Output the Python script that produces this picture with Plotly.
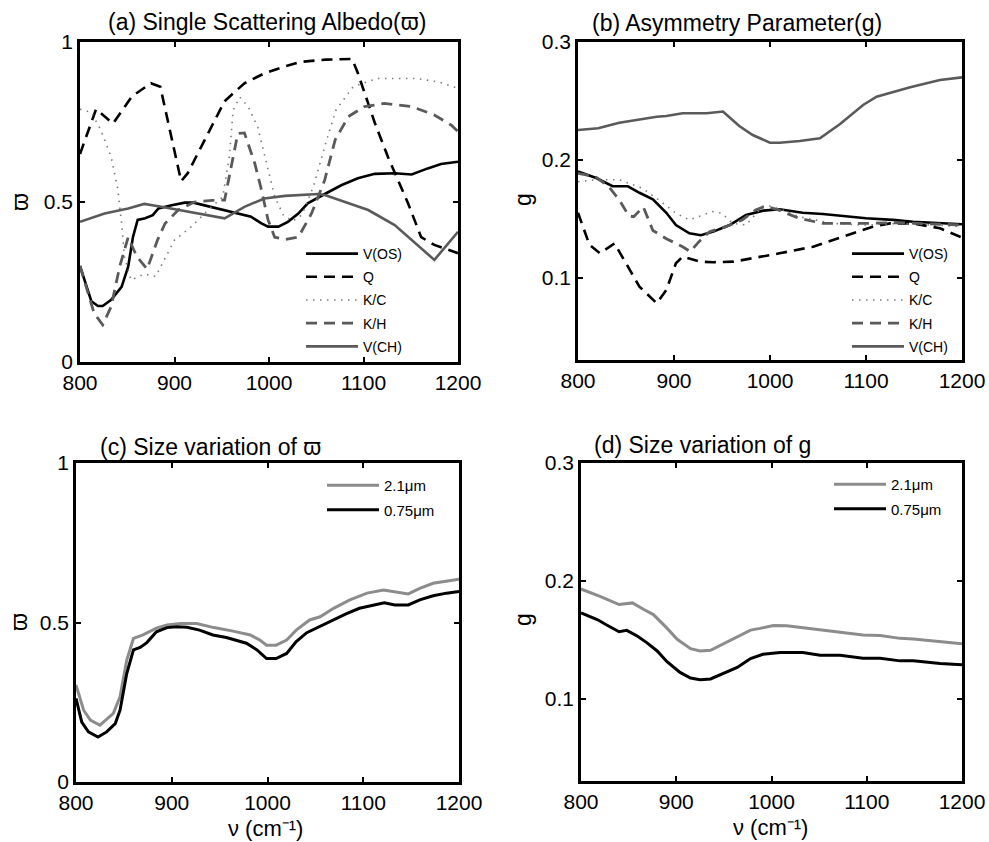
import plotly.graph_objects as go

# ---------------- data ----------------
# Panel (a) single scattering albedo
A_X_VOS = [800, 812, 819, 824, 833, 844, 851, 856, 861, 869, 877, 883, 897, 911, 920, 939, 953, 967, 981, 992, 999, 1010, 1020, 1031, 1041, 1059, 1077, 1094, 1112, 1133, 1151, 1168, 1182, 1200]
A_Y_VOS = [0.30, 0.19, 0.175, 0.175, 0.194, 0.235, 0.298, 0.39, 0.444, 0.449, 0.459, 0.48, 0.49, 0.498, 0.498, 0.485, 0.475, 0.464, 0.454, 0.433, 0.423, 0.423, 0.438, 0.464, 0.496, 0.525, 0.553, 0.574, 0.588, 0.59, 0.586, 0.605, 0.619, 0.626]

A_X_Q = [800, 817, 835, 855, 875, 885, 907, 914, 932, 943, 953, 974, 995, 1015, 1034, 1060, 1088, 1094, 1112, 1126, 1147, 1161, 1175, 1200]
A_Y_Q = [0.65, 0.79, 0.745, 0.83, 0.871, 0.86, 0.565, 0.59, 0.694, 0.756, 0.815, 0.871, 0.902, 0.922, 0.938, 0.945, 0.947, 0.903, 0.747, 0.64, 0.497, 0.39, 0.366, 0.34]

A_X_KC = [800, 812, 822, 833, 840, 844, 847, 854, 868, 880, 900, 918, 932, 951, 958, 962, 969, 978, 988, 999, 1006, 1015, 1025, 1035, 1047, 1061, 1071, 1089, 1114, 1156, 1180, 1200]
A_Y_KC = [0.79, 0.78, 0.725, 0.64, 0.54, 0.434, 0.33, 0.256, 0.275, 0.267, 0.381, 0.423, 0.465, 0.516, 0.64, 0.786, 0.828, 0.798, 0.735, 0.6, 0.517, 0.46, 0.44, 0.46, 0.548, 0.694, 0.788, 0.86, 0.886, 0.886, 0.875, 0.855]

A_X_KH = [800, 815, 824, 833, 842, 851, 860, 871, 882, 890, 904, 921, 940, 953, 960, 967, 974, 985, 992, 999, 1006, 1017, 1031, 1045, 1059, 1070, 1084, 1101, 1122, 1151, 1175, 1193, 1200]
A_Y_KH = [0.30, 0.152, 0.116, 0.173, 0.298, 0.39, 0.33, 0.29, 0.381, 0.433, 0.475, 0.50, 0.505, 0.506, 0.61, 0.714, 0.716, 0.62, 0.538, 0.444, 0.39, 0.383, 0.39, 0.464, 0.569, 0.694, 0.767, 0.798, 0.808, 0.798, 0.772, 0.74, 0.72]

A_X_VCH = [800, 826, 851, 868, 886, 904, 928, 953, 974, 995, 1017, 1052, 1059, 1105, 1133, 1151, 1175, 1200]
A_Y_VCH = [0.438, 0.464, 0.48, 0.494, 0.485, 0.475, 0.4625, 0.449, 0.485, 0.511, 0.519, 0.525, 0.522, 0.475, 0.428, 0.381, 0.319, 0.407]

# Panel (b) asymmetry parameter
B_X_VOS = [800, 819, 836, 852, 864, 878, 892, 902, 916, 928, 941, 958, 975, 993, 1010, 1034, 1055, 1080, 1100, 1128, 1149, 1200]
B_Y_VOS = [0.19, 0.1845, 0.1775, 0.1775, 0.172, 0.1664, 0.155, 0.1446, 0.1376, 0.136, 0.139, 0.1446, 0.1531, 0.1568, 0.158, 0.155, 0.154, 0.1517, 0.1503, 0.149, 0.1474, 0.1452]

B_X_Q = [800, 812, 823, 838, 850, 864, 882, 892, 902, 909, 927, 941, 962, 982, 1010, 1045, 1066, 1087, 1107, 1125, 1149, 1177, 1200]
B_Y_Q = [0.155, 0.1277, 0.1206, 0.129, 0.1121, 0.0923, 0.0782, 0.0895, 0.1121, 0.1177, 0.1135, 0.113, 0.1135, 0.1164, 0.1206, 0.1262, 0.1319, 0.1376, 0.1432, 0.146, 0.146, 0.1418, 0.134]

B_X_KC = [800, 818, 843, 867, 884, 902, 916, 926, 940, 950, 961, 975, 992, 996, 1013, 1030, 1065, 1100, 1134, 1169, 1200]
B_Y_KC = [0.1814, 0.183, 0.183, 0.1758, 0.166, 0.1546, 0.149, 0.1517, 0.156, 0.1546, 0.146, 0.1446, 0.1602, 0.1616, 0.1574, 0.1517, 0.146, 0.1446, 0.146, 0.1446, 0.1432]

B_X_KH = [800, 818, 832, 843, 853, 858, 868, 878, 892, 909, 917, 926, 937, 954, 971, 985, 995, 1009, 1030, 1055, 1100, 1134, 1200]
B_Y_KH = [0.1885, 0.1857, 0.1772, 0.166, 0.1523, 0.1517, 0.16, 0.14, 0.133, 0.1262, 0.122, 0.1305, 0.139, 0.1432, 0.1489, 0.1574, 0.1605, 0.1574, 0.1503, 0.146, 0.146, 0.1466, 0.1446]

B_X_VCH = [800, 821, 843, 861, 882, 892, 909, 934, 951, 968, 982, 1000, 1010, 1031, 1052, 1073, 1097, 1111, 1146, 1177, 1200]
B_Y_VCH = [0.2253, 0.2267, 0.2315, 0.2338, 0.2366, 0.2372, 0.2395, 0.2395, 0.241, 0.2287, 0.221, 0.2145, 0.2145, 0.216, 0.2182, 0.2304, 0.2465, 0.2536, 0.2615, 0.2677, 0.27]

# Panel (c) size variation of albedo
C_X_21 = [800, 808, 815, 825, 839, 846, 853, 860, 870, 884, 895, 909, 926, 944, 964, 982, 992, 999, 1009, 1020, 1030, 1044, 1055, 1069, 1086, 1104, 1121, 1131, 1147, 1159, 1173, 1200]
C_Y_21 = [0.304, 0.225, 0.194, 0.178, 0.215, 0.267, 0.382, 0.45, 0.461, 0.482, 0.492, 0.497, 0.497, 0.484, 0.473, 0.461, 0.445, 0.429, 0.429, 0.445, 0.476, 0.508, 0.518, 0.5445, 0.571, 0.592, 0.602, 0.597, 0.5895, 0.607, 0.623, 0.636]

C_X_075 = [800, 806, 813, 823, 832, 841, 846, 853, 860, 867, 874, 884, 895, 905, 916, 929, 943, 957, 978, 989, 999, 1009, 1020, 1030, 1041, 1055, 1069, 1082, 1096, 1110, 1122, 1133, 1147, 1159, 1173, 1187, 1200]
C_Y_075 = [0.262, 0.188, 0.157, 0.141, 0.157, 0.183, 0.225, 0.34, 0.414, 0.422, 0.437, 0.471, 0.484, 0.487, 0.485, 0.476, 0.461, 0.453, 0.435, 0.414, 0.387, 0.387, 0.403, 0.44, 0.468, 0.489, 0.51, 0.527, 0.5445, 0.555, 0.562, 0.555, 0.555, 0.571, 0.584, 0.592, 0.597]

# Panel (d) size variation of g
D_X_21 = [800, 820, 840, 854, 866, 876, 890, 901, 915, 925, 936, 950, 964, 978, 988, 1002, 1016, 1033, 1061, 1096, 1114, 1135, 1149, 1177, 1200]
D_Y_21 = [0.193, 0.1868, 0.1798, 0.1812, 0.1756, 0.1713, 0.16, 0.1503, 0.1424, 0.1404, 0.141, 0.1466, 0.1522, 0.1581, 0.1596, 0.162, 0.1618, 0.160, 0.1573, 0.1539, 0.1536, 0.1511, 0.1506, 0.1483, 0.1466]

D_X_075 = [800, 817, 827, 840, 848, 859, 869, 880, 890, 904, 915, 925, 936, 950, 964, 978, 991, 1009, 1033, 1051, 1072, 1096, 1114, 1135, 1149, 1177, 1200]
D_Y_075 = [0.1728, 0.1671, 0.1624, 0.1567, 0.1579, 0.1531, 0.1475, 0.1404, 0.1315, 0.1222, 0.1174, 0.116, 0.1166, 0.1216, 0.1264, 0.134, 0.1376, 0.139, 0.139, 0.1368, 0.1368, 0.1343, 0.1343, 0.132, 0.132, 0.1298, 0.1287]

X_TICKS = [800, 900, 1000, 1100, 1200]
W_TICKS = [0, 0.5, 1]
W_TICKTEXT = ["0", "0.5", "1"]
G_TICKS = [0.1, 0.2, 0.3]
G_TICKTEXT = ["0.1", "0.2", "0.3"]

MODEL_NAMES = ["V(OS)", "Q", "K/C", "K/H", "V(CH)"]
SIZE_NAMES = ["2.1μm", "0.75μm"]

# ---------------- styling ----------------
W, H = 989, 842
FONT = "Liberation Sans, Arial, Helvetica, sans-serif"
BLACK = "#000000"
DGRAY = "#5a5a5a"
LGRAY = "#7c7c7c"
SGRAY = "#8c8c8c"

model_styles = [
    dict(color=BLACK, width=2.6, dash="solid"),
    dict(color=BLACK, width=2.6, dash="11px,7px"),
    dict(color=LGRAY, width=1.6, dash="1.5px,5.5px"),
    dict(color=DGRAY, width=2.8, dash="11px,7px"),
    dict(color=DGRAY, width=2.6, dash="solid"),
]

fig = go.Figure()

def add_models(xs, ys, xa, ya, leg):
    for i, (x, y) in enumerate(zip(xs, ys)):
        fig.add_trace(go.Scatter(
            x=x, y=y, mode="lines", name=MODEL_NAMES[i],
            line=model_styles[i], xaxis=xa, yaxis=ya,
            legend=leg, legendgroup=leg + str(i), showlegend=True))

add_models([A_X_VOS, A_X_Q, A_X_KC, A_X_KH, A_X_VCH],
           [A_Y_VOS, A_Y_Q, A_Y_KC, A_Y_KH, A_Y_VCH], "x", "y", "legend")
add_models([B_X_VOS, B_X_Q, B_X_KC, B_X_KH, B_X_VCH],
           [B_Y_VOS, B_Y_Q, B_Y_KC, B_Y_KH, B_Y_VCH], "x2", "y2", "legend2")

size_styles = [dict(color=SGRAY, width=3), dict(color=BLACK, width=3)]
for i, (x, y) in enumerate(zip([C_X_21, C_X_075], [C_Y_21, C_Y_075])):
    fig.add_trace(go.Scatter(x=x, y=y, mode="lines", name=SIZE_NAMES[i],
                             line=size_styles[i], xaxis="x3", yaxis="y3",
                             legend="legend3", legendgroup="c" + str(i)))
for i, (x, y) in enumerate(zip([D_X_21, D_X_075], [D_Y_21, D_Y_075])):
    fig.add_trace(go.Scatter(x=x, y=y, mode="lines", name=SIZE_NAMES[i],
                             line=size_styles[i], xaxis="x4", yaxis="y4",
                             legend="legend4", legendgroup="d" + str(i)))

def px_x(p):
    return p / W

def px_y(p):
    return 1 - p / H

axis_common = dict(showline=True, linecolor=BLACK, linewidth=2.5, mirror="ticks",
                   ticks="inside", ticklen=5, tickwidth=1.5, tickcolor=BLACK,
                   showgrid=False, zeroline=False, automargin=False,
                   tickfont=dict(family=FONT, size=21, color=BLACK))

xcommon = dict(axis_common, range=[800, 1200], tickvals=X_TICKS)

layout = dict(
    width=W, height=H, margin=dict(l=0, r=0, t=0, b=0, autoexpand=False),
    paper_bgcolor="white", plot_bgcolor="white",
    font=dict(family=FONT, color=BLACK),
    xaxis=dict(xcommon, domain=[px_x(80), px_x(458)], anchor="y"),
    yaxis=dict(axis_common, domain=[px_y(362), px_y(42)], anchor="x",
               range=[0, 1], tickvals=W_TICKS, ticktext=W_TICKTEXT),
    xaxis2=dict(xcommon, domain=[px_x(578), px_x(962)], anchor="y2"),
    yaxis2=dict(axis_common, domain=[px_y(360), px_y(42)], anchor="x2",
                range=[0.03, 0.3], tickvals=G_TICKS, ticktext=G_TICKTEXT),
    xaxis3=dict(xcommon, domain=[px_x(76), px_x(459)], anchor="y3"),
    yaxis3=dict(axis_common, domain=[px_y(782), px_y(463)], anchor="x3",
                range=[0, 1], tickvals=W_TICKS, ticktext=W_TICKTEXT),
    xaxis4=dict(xcommon, domain=[px_x(581), px_x(962)], anchor="y4"),
    yaxis4=dict(axis_common, domain=[px_y(781), px_y(463)], anchor="x4",
                range=[0.03, 0.3], tickvals=G_TICKS, ticktext=G_TICKTEXT),
)

def legend_cfg(xl, yt, size):
    return dict(x=px_x(xl), y=px_y(yt), xanchor="left", yanchor="top",
                bgcolor="rgba(0,0,0,0)", borderwidth=0, itemwidth=52,
                tracegroupgap=2, font=dict(family=FONT, size=size, color=BLACK))

layout["legend"] = legend_cfg(301, 238, 14)
layout["legend2"] = legend_cfg(847, 238, 14)
layout["legend3"] = legend_cfg(322, 469, 15)
layout["legend4"] = legend_cfg(829, 468, 15)

fig.update_layout(**layout)

def ann(text, x, y, size, angle=0):
    fig.add_annotation(text=text, x=px_x(x), y=px_y(y), xref="paper", yref="paper",
                       xanchor="center", yanchor="middle", showarrow=False,
                       textangle=angle, font=dict(family=FONT, size=size, color=BLACK))

ann("(a) Single Scattering Albedo(ϖ)", 267, 22, 23)
ann("(b) Asymmetry Parameter(g)", 737, 23, 23)
ann("(c) Size variation of ϖ", 210, 447, 23)
ann("(d) Size variation of g", 702, 445, 23)
ann("ϖ", 20, 202, 23, -90)
ann("g", 523, 200, 23, -90)
ann("ϖ", 19, 622, 23, -90)
ann("g", 523, 620, 23, -90)
ann("ν (cm⁻¹)", 265, 828, 22)
ann("ν (cm⁻¹)", 770, 827, 22)

fig.write_html("out.html")
